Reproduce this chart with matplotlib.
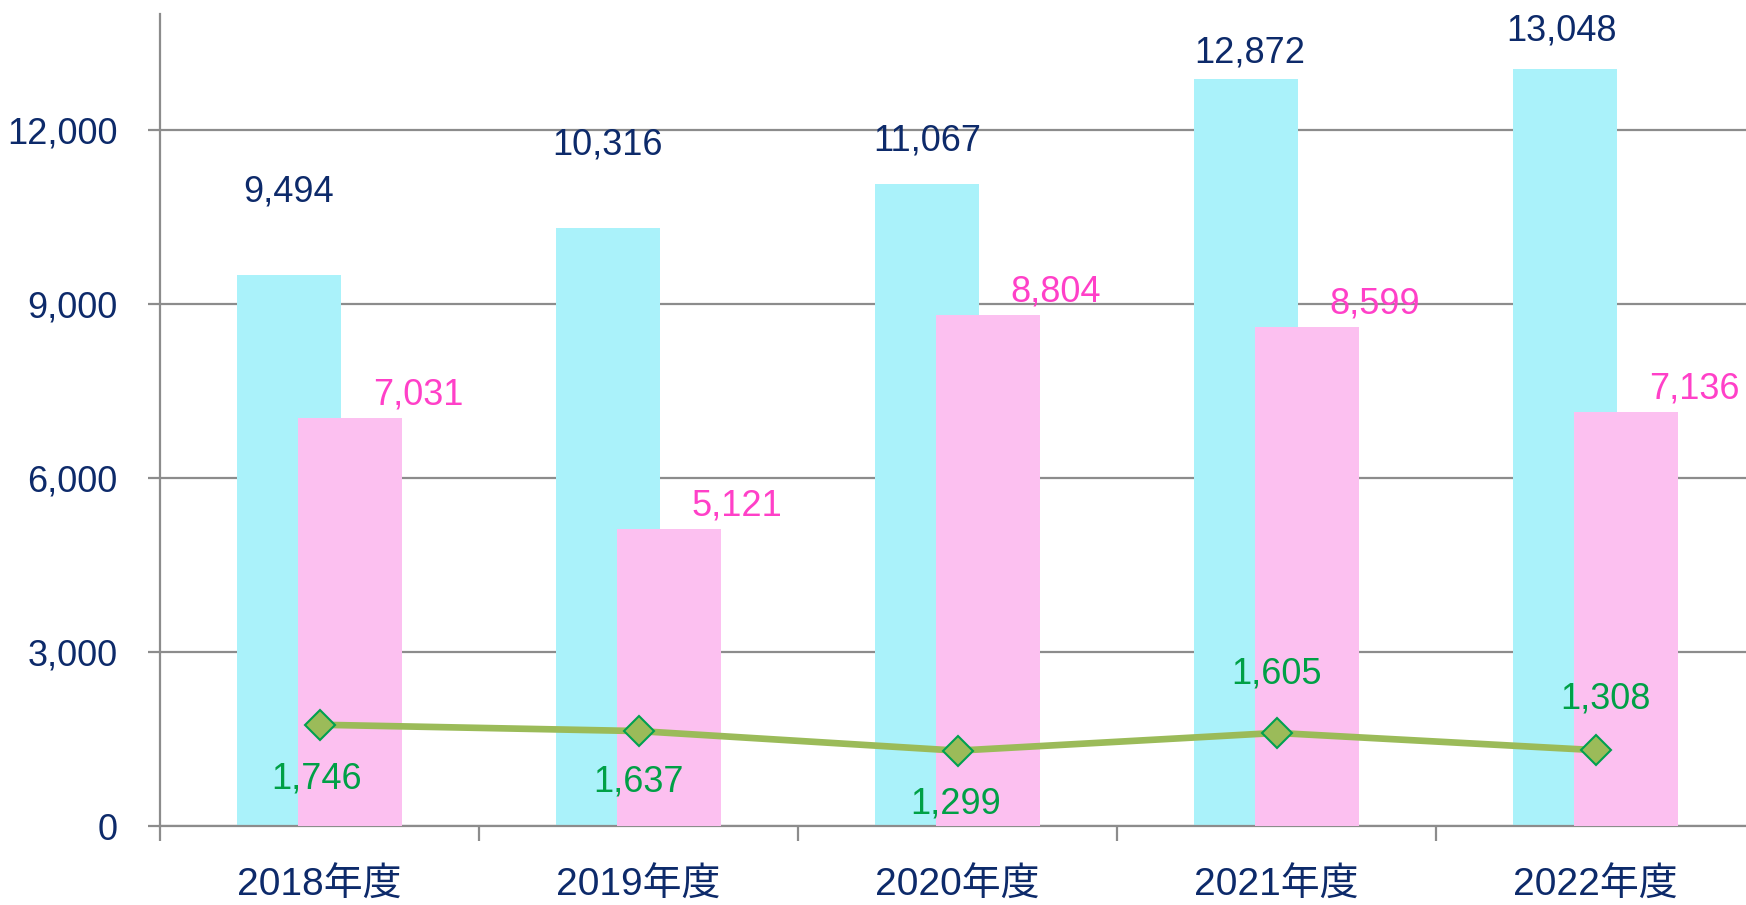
import matplotlib.pyplot as plt
from matplotlib.ticker import FuncFormatter, FixedLocator

# data
years = ['2018年度', '2019年度', '2020年度', '2021年度', '2022年度']
series_a = [9494, 10316, 11067, 12872, 13048]   # cyan bars
series_b = [7031, 5121, 8804, 8599, 7136]       # pink bars
series_c = [1746, 1637, 1299, 1605, 1308]       # green line

# label offsets in pixels (dx, dy) relative to the mark
off_a = [(0, 83), (0, 83), (0, 43), (4, 26), (-3, 38)]
off_b = [(68, 23)] * 5
off_c = [(-3, -54), (0, -51), (-2, -53), (0, 59), (10, 51)]

plt.rcParams['font.family'] = ['Liberation Sans', 'Noto Sans CJK JP', 'DejaVu Sans']

W, H = 1746, 905
fig = plt.figure(figsize=(W / 100, H / 100), dpi=100)
ax = fig.add_axes([160 / W, 79 / H, 1595 / W, 812 / H])

navy = '#0D2A6A'
grid_c = '#8C8C8C'
x = list(range(len(years)))
bw = 0.324
sh = 0.096

ax.bar([i - sh for i in x], series_a, width=bw, color='#AAF2FA', zorder=2)
ax.bar([i + sh for i in x], series_b, width=bw, color='#FCC0F0', zorder=3)
ax.plot(x, series_c, color='#9BBB59', lw=4.8, marker='D', markersize=15,
        markerfacecolor='#9BBB59', markeredgecolor='#00A050', markeredgewidth=1.5,
        zorder=4)

px = 0.72
fs = 26
for i in x:
    ax.annotate(f'{series_a[i]:,}', (i - sh, series_a[i]), xytext=(off_a[i][0] * px, off_a[i][1] * px),
                textcoords='offset points', ha='center', va='center', fontsize=fs, color=navy, zorder=5)
    ax.annotate(f'{series_b[i]:,}', (i + sh, series_b[i]), xytext=(off_b[i][0] * px, off_b[i][1] * px),
                textcoords='offset points', ha='center', va='center', fontsize=fs, color='#FF40C8', zorder=5)
    ax.annotate(f'{series_c[i]:,}', (i, series_c[i]), xytext=(off_c[i][0] * px, off_c[i][1] * px),
                textcoords='offset points', ha='center', va='center', fontsize=fs, color='#00A046', zorder=5)

ax.set_xlim(-0.5, len(years) - 0.5)
ax.set_ylim(0, 14000)
ax.set_yticks([0, 3000, 6000, 9000, 12000])
ax.yaxis.set_major_formatter(FuncFormatter(lambda v, p: f'{int(v):,}'))
ax.grid(axis='y', color=grid_c, lw=1.6, zorder=1)
ax.set_axisbelow(True)

ax.xaxis.set_major_locator(FixedLocator([i - 0.5 for i in range(len(years) + 1)]))
ax.xaxis.set_minor_locator(FixedLocator(x))
ax.set_xticklabels([])
ax.set_xticklabels(years, minor=True)
ax.tick_params(axis='x', which='major', length=11, width=1.6, color=grid_c)
ax.tick_params(axis='x', which='minor', length=0, pad=30, labelsize=28, labelcolor=navy)
ax.tick_params(axis='y', length=8.6, width=1.6, color=grid_c, pad=22, labelsize=fs, labelcolor=navy)

for s in ['top', 'right']:
    ax.spines[s].set_visible(False)
for s in ['left', 'bottom']:
    ax.spines[s].set_color(grid_c)
    ax.spines[s].set_linewidth(1.6)

fig.savefig('out.png', dpi=100)
